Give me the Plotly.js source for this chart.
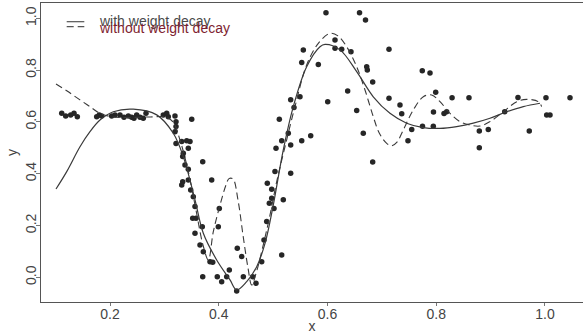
<!DOCTYPE html>
<html>
<head>
<meta charset="utf-8">
<script src="https://cdn.plot.ly/plotly-3.0.1.min.js"></script>
<style>html,body{margin:0;padding:0;background:#fff;}#chart{width:583px;height:335px;}</style>
</head>
<body>
<div id="chart"></div>
<script>
// Observed data points
const xObs = [0.1112,0.1185,0.1277,0.1338,0.1399,0.1755,0.1803,0.1847,0.2031,0.2092,0.2184,0.2257,0.2337,0.2399,0.2441,0.2491,0.2552,0.2612,0.2662,0.2980,0.3043,0.3072,0.3195,
0.3214,0.3214,0.3195,0.3503,0.3214,0.3319,0.3411,0.3471,0.3440,0.3348,0.3337,0.3705,0.3379,0.3440,0.3337,0.3319,0.3440,0.3484,0.3532,0.3870,0.3563,0.3521,0.3582,0.3563,0.3697,0.3655,0.3716,0.3839,0.3889,0.3705,0.3992,0.4010,0.3973,0.4054,0.4146,0.4194,0.4330,0.4341,0.4422,0.4452,0.4624,0.4685,0.4790,0.4832,0.4882,0.4930,0.4974,0.5016,0.5034,0.5187,0.5158,0.5323,
0.4893,0.4974,0.5053,0.5114,0.5158,0.5279,0.5323,0.5323,0.5384,0.5494,0.5526,0.5691,0.5526,0.5555,0.5831,0.6004,0.6138,0.6138,0.5972,0.6589,0.6699,0.6261,0.6432,0.7131,0.6721,0.6732,0.6831,0.6371,0.6537,0.7131,0.7333,0.7365,0.6658,0.6831,0.7549,0.7480,0.7743,0.7885,0.7990,0.7949,0.8143,0.8192,0.7747,0.7946,0.8291,0.8602,0.8792,0.8957,0.8792,0.9259,0.9503,0.9711,1.0018,1.0031,1.0092,1.0460];
const yObs = [0.633,0.623,0.627,0.633,0.620,0.620,0.627,0.623,0.623,0.627,0.627,0.618,0.623,0.618,0.614,0.627,0.618,0.614,0.633,0.627,0.633,0.620,0.623,
0.601,0.582,0.562,0.610,0.517,0.524,0.527,0.524,0.498,0.479,0.466,0.446,0.434,0.417,0.369,0.356,0.376,0.337,0.311,0.376,0.273,0.228,0.228,0.170,0.195,0.125,0.099,0.060,0.058,0.002,0.195,0.266,0.002,-0.017,0.002,0.028,-0.053,0.112,0.080,0.002,0.002,-0.023,0.060,0.144,0.215,0.286,0.305,0.266,0.408,0.299,0.086,0.402,
0.363,0.340,0.498,0.610,0.527,0.556,0.511,0.685,0.656,0.697,0.527,0.546,0.829,0.878,0.822,0.678,0.916,0.884,1.021,1.021,0.993,0.880,0.871,0.880,0.813,0.800,0.754,0.719,0.644,0.691,0.665,0.631,0.556,0.445,0.571,0.527,0.797,0.789,0.714,0.638,0.632,0.639,0.583,0.583,0.693,0.693,0.565,0.571,0.500,0.639,0.694,0.565,0.693,0.627,0.627,0.693];

// Fitted curve with weight decay (solid)
const xDecay = [0.1007,0.1204,0.1448,0.1632,0.1816,0.2061,0.2428,0.2859,0.3164,0.3348,0.3563,0.3716,0.3962,0.4207,0.4330,0.4514,0.4698,0.4851,0.5003,0.5187,0.5371,0.5617,0.5862,0.5954,0.6230,0.6537,0.6842,0.7149,0.7456,0.7762,0.8069,0.8376,0.8681,0.8988,0.9296,0.9601,0.9908];
const yDecay = [0.341,0.408,0.504,0.562,0.607,0.639,0.649,0.627,0.556,0.466,0.299,0.170,0.067,-0.010,-0.049,-0.017,0.041,0.131,0.279,0.492,0.659,0.813,0.890,0.899,0.878,0.794,0.697,0.633,0.595,0.578,0.575,0.582,0.595,0.614,0.639,0.659,0.672];

// Fitted curve without weight decay (dashed)
const xNoDecay = [0.1007,0.1204,0.1448,0.1632,0.1816,0.2055,0.2368,0.2736,0.3012,0.3159,0.3287,0.3434,0.3581,0.3710,0.3808,0.3900,0.4023,0.4133,0.4188,0.4262,0.4354,0.4446,0.4538,0.4606,0.4703,0.4819,0.4942,0.5066,0.5218,0.5402,0.5617,0.5831,0.6046,0.6193,0.6353,0.6537,0.6690,0.6842,0.6954,0.7089,0.7181,0.7278,0.7394,0.7578,0.7762,0.7916,0.8069,0.8253,0.8437,0.8621,0.8804,0.8988,0.9233,0.9480,0.9663,0.9877,0.9939];
const yNoDecay = [0.746,0.720,0.685,0.659,0.633,0.619,0.617,0.619,0.619,0.600,0.530,0.414,0.260,0.125,0.067,0.176,0.279,0.356,0.381,0.380,0.298,0.163,0.036,-0.030,0.028,0.125,0.240,0.369,0.504,0.659,0.820,0.903,0.942,0.932,0.890,0.813,0.723,0.620,0.556,0.517,0.508,0.522,0.569,0.646,0.697,0.704,0.678,0.633,0.601,0.588,0.584,0.601,0.639,0.678,0.687,0.678,0.659];

const legendLabels = ["with weight decay", "without weight decay"];
const xTicks = [0.2, 0.4, 0.6, 0.8, 1.0];
const yTicks = [0.0, 0.2, 0.4, 0.6, 0.8, 1.0];

const traces = [
  {x: xObs, y: yObs, type: 'scatter', mode: 'markers',
   marker: {size: 5.5, color: '#262626'}, hoverinfo: 'skip'},
  {x: xDecay, y: yDecay, type: 'scatter', mode: 'lines',
   line: {color: '#3a3a3a', width: 1.2, shape: 'spline', smoothing: 1}},
  {x: xNoDecay, y: yNoDecay, type: 'scatter', mode: 'lines',
   line: {color: '#3a3a3a', width: 1.1, dash: '7px,4px', shape: 'spline', smoothing: 1}}
];

const axisFont = {family: 'Liberation Sans, Arial, sans-serif', size: 14, color: '#444'};

const layout = {
  width: 583, height: 335,
  margin: {l: 41, r: 0, t: 3, b: 33},
  paper_bgcolor: '#fff', plot_bgcolor: '#fff',
  showlegend: false,
  xaxis: {
    range: [0.0731, 1.0699], tickvals: xTicks, ticktext: xTicks.map(v => v.toFixed(1)),
    showgrid: false, zeroline: false, showline: true, mirror: true, linecolor: '#555', linewidth: 1,
    ticks: 'outside', ticklen: 3, tickcolor: '#777', tickfont: axisFont, ticklabelstandoff: -4,
    title: {text: 'x', font: axisFont, standoff: 0}
  },
  yaxis: {
    range: [-0.0954, 1.059], tickvals: yTicks, ticktext: yTicks.map(v => v.toFixed(1)),
    showgrid: false, zeroline: false, showline: true, linecolor: '#555', linewidth: 1,
    ticks: 'outside', ticklen: 4, tickcolor: '#777', tickfont: axisFont, tickangle: -90, ticklabelstandoff: -6,
    title: {text: 'y', font: axisFont, standoff: 2}
  },
  shapes: [
    {type: 'line', xref: 'paper', yref: 'paper', x0: 0.0474, x1: 0.0799, y0: 0.9375, y1: 0.9375,
     line: {color: '#555', width: 1.2}},
    {type: 'line', xref: 'paper', yref: 'paper', x0: 0.0474, x1: 0.0799, y0: 0.9208, y1: 0.9208,
     line: {color: '#555', width: 1.2, dash: '7px,4px'}}
  ],
  annotations: [
    {xref: 'paper', yref: 'paper', x: 0.1030, y: 0.9398, xanchor: 'left', yanchor: 'middle',
     text: legendLabels[0], showarrow: false,
     font: {family: 'Liberation Sans, Arial, sans-serif', size: 14, color: '#4a4a4a'}},
    {xref: 'paper', yref: 'paper', x: 0.1030, y: 0.918, xanchor: 'left', yanchor: 'middle',
     text: legendLabels[1], showarrow: false,
     font: {family: 'Liberation Sans, Arial, sans-serif', size: 14, color: '#7e1e30'}}
  ]
};

Plotly.newPlot('chart', traces, layout, {staticPlot: true, displayModeBar: false});
</script>
</body>
</html>
